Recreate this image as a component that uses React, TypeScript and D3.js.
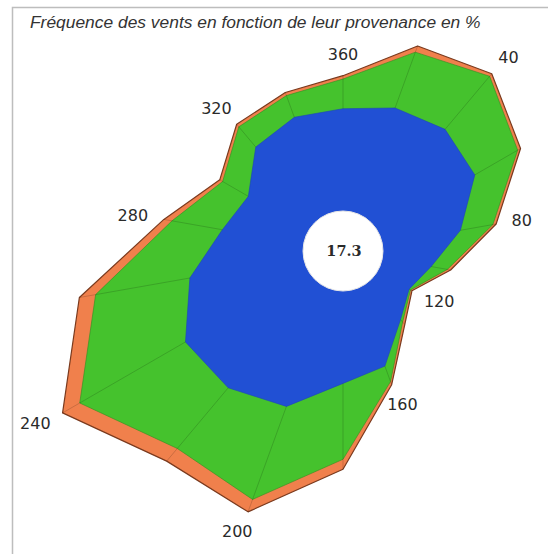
import React from "react";
import * as d3 from "d3";

// wind direction (provenance), degrees; 0 is shown as 360
const directions = [0, 20, 40, 60, 80, 100, 120, 140, 160, 180, 200, 220, 240, 260, 280, 300, 320, 340];
const labelDirections = [0, 40, 80, 120, 160, 200, 240, 280, 320];

// frequency in % per speed class
const weakWind = [3.1, 3.4, 3.6, 3.4, 2.4, 1.5, 1.1, 1.5, 2.5, 2.8, 3.8, 4.2, 4.3, 3.5, 2.5, 2.1, 2.9, 3.1];
const mediumWind = [0.9, 1.8, 2.1, 1.5, 1.0, 0.5, 0.05, 0.1, 0.5, 2.3, 3.0, 2.4, 3.7, 2.9, 1.55, 0.9, 0.8, 0.7];
const strongWind = [0.1, 0.2, 0.1, 0.1, 0.1, 0.1, 0.05, 0.1, 0.1, 0.3, 0.4, 0.5, 0.6, 0.5, 0.25, 0.1, 0.1, 0.1];
const calm = 17.3;

const title = "Fréquence des vents en fonction de leur provenance en %";

const W = 548;
const H = 554;
const cx = 343;
const cy = 251;
const calmR = 40;

export default function App() {
  const table = directions.map((dir, i) => ({
    dir,
    weak: weakWind[i],
    medium: mediumWind[i],
    strong: strongWind[i],
  }));

  const series = d3.stack<any>().keys(["weak", "medium", "strong"])(table);

  const r = d3.scaleLinear().domain([0, 10]).range([calmR, calmR + 330]);
  const ang = (deg: number) => (deg * Math.PI) / 180;

  const colors: Record<string, string> = {
    weak: "#2150d4",
    medium: "#45c22d",
    strong: "#f0804c",
  };
  const strokes: Record<string, string> = {
    weak: "#1c44b8",
    medium: "#2f8f22",
    strong: "#7a3a1e",
  };

  const radial = d3
    .lineRadial<any>()
    .angle((d) => ang(d.data.dir))
    .radius((d) => r(d[1]))
    .curve(d3.curveLinearClosed);

  const inner = series[0];
  const outer = series[series.length - 1];
  const point = (deg: number, rad: number) => [
    cx + Math.sin(ang(deg)) * rad,
    cy - Math.cos(ang(deg)) * rad,
  ];

  return (
    <svg
      width={W}
      height={H}
      style={{ position: "absolute", left: 0, top: 0, background: "#fff" }}
    >
      <rect x={12.5} y={7.5} width={700} height={700} fill="#fff" stroke="#bdbdbd" strokeWidth={1.5} />
      <text
        x={30}
        y={28}
        fontFamily="'Liberation Sans', Arial, sans-serif"
        fontStyle="italic"
        fontSize={17.4}
        fill="#333"
      >
        {title}
      </text>

      <g transform={`translate(${cx},${cy})`}>
        {[...series].reverse().map((s) => (
          <path
            key={s.key}
            d={radial(s as any) || ""}
            fill={colors[s.key]}
            stroke={strokes[s.key]}
            strokeWidth={s.key === "strong" ? 1.2 : 0.6}
            strokeLinejoin="round"
          />
        ))}
      </g>

      {outer.map((d: any, i: number) => {
        const [x1, y1] = point(d.data.dir, r((inner[i] as any)[1]));
        const [x2, y2] = point(d.data.dir, r(d[1]));
        return (
          <line
            key={d.data.dir}
            x1={x1}
            y1={y1}
            x2={x2}
            y2={y2}
            stroke="#000"
            strokeOpacity={0.2}
            strokeWidth={0.8}
          />
        );
      })}

      <circle cx={cx} cy={cy} r={calmR} fill="#fff" stroke="#e6e6e6" strokeWidth={1} />
      <text
        x={cx + 1}
        y={cy}
        dy="0.35em"
        textAnchor="middle"
        fontFamily="'DejaVu Serif', serif"
        fontWeight="bold"
        fontSize={14.5}
        fill="#2a2a2a"
      >
        {calm.toFixed(1)}
      </text>

      {labelDirections.map((dir) => {
        const d = outer.find((o: any) => o.data.dir === dir) as any;
        const rad = r(d[1]) + 15;
        const [px, py] = point(dir, rad);
        const s = Math.sin(ang(dir));
        const c = Math.cos(ang(dir));
        const label = dir === 0 ? "360" : String(dir);
        const half = label.length * 5.5;
        return (
          <text
            key={dir}
            x={px + s * half}
            y={py - c * 6}
            dy="0.35em"
            textAnchor="middle"
            fontFamily="'DejaVu Sans', Verdana, sans-serif"
            fontSize={16}
            fill="#2a2a2a"
          >
            {label}
          </text>
        );
      })}
    </svg>
  );
}
